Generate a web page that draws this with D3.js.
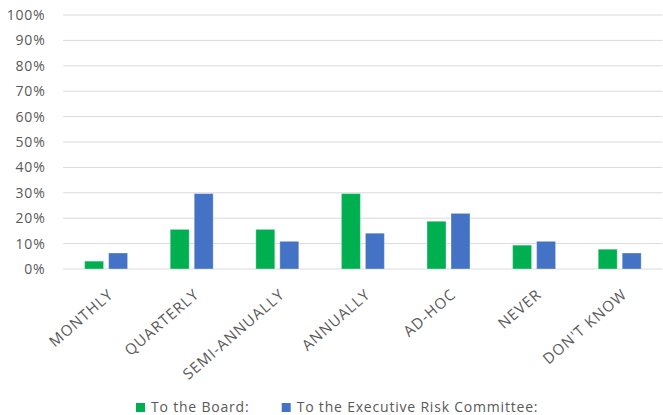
<!DOCTYPE html>
<html>
<head>
<meta charset="utf-8">
<script src="https://cdn.jsdelivr.net/npm/d3@7"></script>
<style>
  html, body { margin: 0; padding: 0; background: #fff; }
  svg text { font-family: "Open Sans", sans-serif; fill: #595959; }
</style>
</head>
<body>
<svg id="chart" width="663" height="415"></svg>
<script>
const categories = ["MONTHLY", "QUARTERLY", "SEMI-ANNUALLY", "ANNUALLY", "AD-HOC", "NEVER", "DON'T KNOW"];
const seriesNames = ["To the Board:", "To the Executive Risk Committee:"];
const boardValues = [0.031, 0.156, 0.156, 0.297, 0.188, 0.094, 0.078];
const ercValues = [0.063, 0.297, 0.109, 0.141, 0.219, 0.109, 0.063];
const yTicks = [0, 0.1, 0.2, 0.3, 0.4, 0.5, 0.6, 0.7, 0.8, 0.9, 1.0];
const colors = ["#00B050", "#4472C4"];

const svg = d3.select("#chart");
const plotLeft = 63.2, plotRight = 662.4, plotTop = 15, plotBottom = 269;

const y = d3.scaleLinear().domain([0, 1]).range([plotBottom, plotTop]);
const x0 = d3.scaleBand().domain(categories).range([plotLeft, plotRight]).padding(0);
const groupOffset = 21.4, groupWidth = 43;
const x1 = d3.scaleBand().domain(seriesNames).range([groupOffset, groupOffset + groupWidth]).paddingInner(0.2083).paddingOuter(0);

// gridlines
svg.append("g").selectAll("line").data(yTicks).join("line")
  .attr("x1", plotLeft).attr("x2", plotRight)
  .attr("y1", d => y(d)).attr("y2", d => y(d))
  .attr("stroke", "#D9D9D9").attr("stroke-width", 1);

// y axis labels
const yAxis = d3.axisLeft(y).tickValues(yTicks).tickFormat(d3.format(".0%")).tickSize(0).tickPadding(0);
const yg = svg.append("g").attr("transform", "translate(45.5,0)").call(yAxis);
yg.select(".domain").remove();
yg.selectAll("text").attr("font-size", "14px").style("letter-spacing", "0.8px")
  .style("font-family", '"Open Sans", sans-serif').attr("fill", "#595959");

// bars
const data = categories.map((c, i) => ({ cat: c, vals: [boardValues[i], ercValues[i]] }));
const groups = svg.append("g").selectAll("g").data(data).join("g")
  .attr("transform", d => `translate(${x0(d.cat)},0)`);
groups.selectAll("rect").data(d => d.vals.map((v, j) => ({ v, s: seriesNames[j], j })))
  .join("rect")
  .attr("x", d => x1(d.s))
  .attr("width", x1.bandwidth())
  .attr("y", d => y(d.v))
  .attr("height", d => y(0) - y(d.v))
  .attr("fill", d => colors[d.j])
  .attr("stroke", "rgba(255,255,255,0.35)")
  .attr("stroke-width", 1);

// x labels
svg.append("g").selectAll("text").data(categories).join("text")
  .attr("transform", d => `translate(${x0(d) + x0.bandwidth() / 2 + 5},${plotBottom + 23}) rotate(-41)`)
  .attr("text-anchor", "end")
  .attr("dy", "0.35em")
  .attr("font-size", "15px")
  .style("letter-spacing", "1px")
  .text(d => d);

// legend
const legendItems = [{ name: seriesNames[0], x: 136, color: colors[0] }, { name: seriesNames[1], x: 281.7, color: colors[1] }];
const lg = svg.append("g");
legendItems.forEach(it => {
  lg.append("rect").attr("x", it.x).attr("y", 403).attr("width", 9).attr("height", 9).attr("fill", it.color);
  lg.append("text").attr("x", it.x + 15).attr("y", 411.5).attr("font-size", "14px")
    .style("letter-spacing", "0.8px").text(it.name);
});
</script>
</body>
</html>
